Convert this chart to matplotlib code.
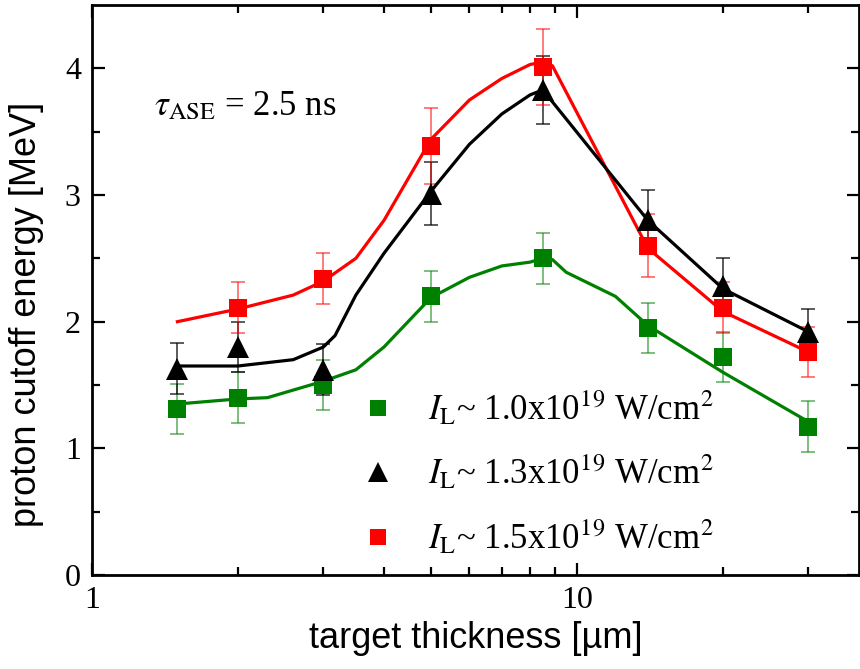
import matplotlib
matplotlib.use("Agg")
import matplotlib.pyplot as plt
from matplotlib.ticker import FixedLocator, NullFormatter, FixedFormatter

plt.rcParams['font.family'] = ['Liberation Serif', 'DejaVu Serif']
plt.rcParams['mathtext.fontset'] = 'stix'

# measured data points
x_green = [1.5, 2, 3, 5, 8.5, 14, 20, 30]
y_green = [1.31, 1.40, 1.50, 2.20, 2.50, 1.95, 1.72, 1.17]
e_green = [0.2, 0.2, 0.2, 0.2, 0.2, 0.2, 0.2, 0.2]

x_black = [1.5, 2, 3, 5, 8.5, 14, 20, 30]
y_black = [1.63, 1.80, 1.62, 3.01, 3.83, 2.80, 2.28, 1.92]
e_black = [0.2, 0.2, 0.2, 0.25, 0.27, 0.24, 0.22, 0.18]

x_red = [2, 3, 5, 8.5, 14, 20, 30]
y_red = [2.11, 2.34, 3.39, 4.01, 2.60, 2.11, 1.76]
e_red = [0.2, 0.2, 0.3, 0.3, 0.25, 0.2, 0.2]

# guide curves
cx_green = [1.5, 2, 2.3, 3, 3.5, 4, 5, 6, 7, 8, 8.5, 8.9, 9.5, 12, 14, 20, 30]
cy_green = [1.35, 1.39, 1.40, 1.53, 1.62, 1.80, 2.19, 2.35, 2.44, 2.47, 2.50, 2.49, 2.39, 2.20, 1.97, 1.60, 1.21]

cx_black = [1.5, 2, 2.6, 3, 3.17, 3.5, 4, 5, 6, 7, 8, 8.5, 14, 20, 30]
cy_black = [1.65, 1.65, 1.70, 1.80, 1.89, 2.21, 2.54, 3.03, 3.40, 3.64, 3.79, 3.83, 2.80, 2.26, 1.92]

cx_red = [1.5, 2, 2.6, 3, 3.5, 4, 5, 6, 7, 8, 8.5, 8.9, 14, 20, 30]
cy_red = [2.00, 2.10, 2.21, 2.32, 2.50, 2.80, 3.44, 3.75, 3.92, 4.03, 4.05, 4.02, 2.58, 2.08, 1.76]

labels = [r'$I_{\mathrm{L}}$~ 1.0x10$^{19}$ W/cm$^{2}$',
          r'$I_{\mathrm{L}}$~ 1.3x10$^{19}$ W/cm$^{2}$',
          r'$I_{\mathrm{L}}$~ 1.5x10$^{19}$ W/cm$^{2}$']

green = '#008000'
red = '#ff0000'

fig = plt.figure(figsize=(8.6, 6.69), dpi=100)
ax = fig.add_axes([92/860, 94/669, 767/860, 570/669])

ax.errorbar(x_green, y_green, yerr=e_green, fmt='none', ecolor=green, alpha=0.6,
            elinewidth=1.2, capsize=5, capthick=1.2, zorder=2)
ax.errorbar(x_black, y_black, yerr=e_black, fmt='none', ecolor='black', alpha=0.75,
            elinewidth=1.2, capsize=5, capthick=1.2, zorder=2)
ax.errorbar(x_red, y_red, yerr=e_red, fmt='none', ecolor=red, alpha=0.6,
            elinewidth=1.2, capsize=5, capthick=1.2, zorder=2)

ax.plot(cx_green, cy_green, color=green, lw=2.3, zorder=3)
ax.plot(cx_red, cy_red, color=red, lw=2.3, zorder=3)
ax.plot(cx_black, cy_black, color='black', lw=2.3, zorder=3)

hg, = ax.plot(x_green, y_green, 's', color=green, ms=12.5, mew=0, ls='none', zorder=4)
hb, = ax.plot(x_black, y_black, '^', color='black', ms=15.5, mew=0, ls='none', zorder=4)
hr, = ax.plot(x_red, y_red, 's', color=red, ms=12.5, mew=0, ls='none', zorder=5)

ax.set_xscale('log')
ax.set_xlim(1, 10**(767/485))
ax.set_ylim(0, 4.5)

ax.xaxis.set_major_locator(FixedLocator([1, 10]))
ax.xaxis.set_major_formatter(FixedFormatter(['1', '10']))
ax.xaxis.set_minor_locator(FixedLocator([2, 3, 4, 5, 6, 7, 8, 9, 20, 30]))
ax.xaxis.set_minor_formatter(NullFormatter())
ax.yaxis.set_major_locator(FixedLocator([0, 1, 2, 3, 4]))
ax.yaxis.set_minor_locator(FixedLocator([0.5, 1.5, 2.5, 3.5]))

ax.tick_params(which='both', direction='in', top=True, right=True, width=1.6)
ax.tick_params(which='major', length=9, labelsize=23, pad=8)
ax.tick_params(which='minor', length=5.5)
for s in ax.spines.values():
    s.set_linewidth(2.0)

ax.set_xlabel('target thickness [µm]', family='Liberation Sans', fontsize=26)
ax.set_ylabel('proton cutoff energy [MeV]', family='Liberation Sans', fontsize=26)
ax.xaxis.set_label_coords(0.5, -0.081)
ax.yaxis.set_label_coords(-0.062, 0.458)

ax.text(0.081, 0.807, r'$\tau_{\mathrm{ASE}}$ = 2.5 ns', transform=ax.transAxes,
        fontsize=25, va='baseline', ha='left')

leg = ax.legend([hg, hb, hr], labels, loc='upper left', bbox_to_anchor=(0.35, 0.325),
                frameon=False, fontsize=25, handlelength=1.0, handletextpad=0.95,
                labelspacing=0.75, borderpad=0, borderaxespad=0, markerscale=0.93)

fig.savefig('out.png', dpi=100)
